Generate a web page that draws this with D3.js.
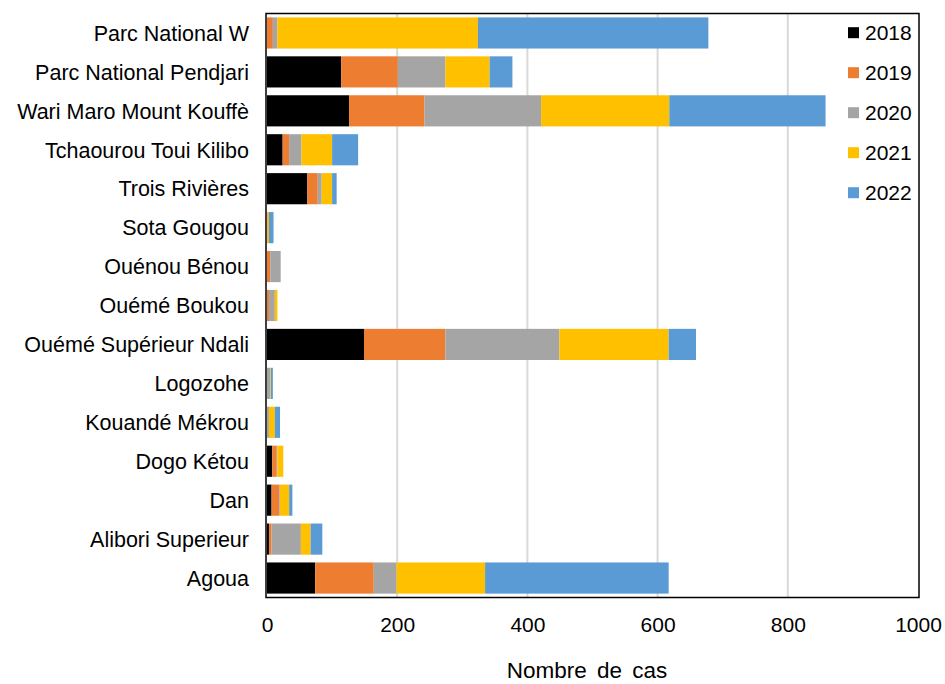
<!DOCTYPE html>
<html>
<head>
<meta charset="utf-8">
<script src="https://cdn.jsdelivr.net/npm/d3@7"></script>
<style>
  html, body { margin: 0; padding: 0; background: #fff; }
  svg { display: block; font-family: "Liberation Sans", Arial, sans-serif; }
</style>
</head>
<body>
<svg id="chart" width="945" height="684"></svg>
<script>
// Sites (top to bottom)
const sites = [
  "Parc National W",
  "Parc National Pendjari",
  "Wari Maro Mount Kouffè",
  "Tchaourou Toui Kilibo",
  "Trois Rivières",
  "Sota Gougou ",
  "Ouénou Bénou",
  "Ouémé Boukou",
  "Ouémé Supérieur Ndali",
  "Logozohe",
  "Kouandé Mékrou",
  "Dogo Kétou",
  "Dan",
  "Alibori Superieur",
  "Agoua"
];

// Yearly case counts per site, same order as sites
const years = ["2018", "2019", "2020", "2021", "2022"];
const cases2018 = [0, 114, 126, 24, 62, 0, 0, 0, 149, 0, 0, 8, 7, 3, 74];
const cases2019 = [9, 87, 116, 10, 16, 1, 5, 3, 125, 0, 0, 7, 12, 4, 90];
const cases2020 = [7, 73, 179, 19, 6, 0, 16, 9, 175, 5, 3, 1, 1, 45, 35];
const cases2021 = [308, 68, 197, 47, 16, 2, 0, 4, 168, 1, 9, 9, 14, 15, 136];
const cases2022 = [354, 35, 240, 40, 7, 7, 0, 0, 42, 3, 8, 0, 5, 18, 282];

const xTicks = [0, 200, 400, 600, 800, 1000];
const colors = ["#000000", "#ED7D31", "#A5A5A5", "#FFC000", "#5B9BD5"];

const seriesValues = [cases2018, cases2019, cases2020, cases2021, cases2022];
const rows = sites.map((s, i) => {
  const r = { site: s };
  years.forEach((y, k) => { r[y] = seriesValues[k][i]; });
  return r;
});

const svg = d3.select("#chart");
const plotLeft = 267, plotRight = 918, plotTop = 13.5, plotBottom = 597.5;

const x = d3.scaleLinear().domain([0, 1000]).range([plotLeft, plotRight]);
const y = d3.scaleBand().domain(sites).range([plotTop, plotBottom]).paddingInner(0.2).paddingOuter(0.1);

// Vertical gridlines
svg.append("g")
  .selectAll("line")
  .data(xTicks.filter(t => t > 0 && t < 1000))
  .join("line")
  .attr("x1", d => x(d)).attr("x2", d => x(d))
  .attr("y1", plotTop).attr("y2", plotBottom)
  .attr("stroke", "#d9d9d9")
  .attr("stroke-width", 2);

// Stacked bars
const stack = d3.stack().keys(years)(rows);
svg.append("g")
  .selectAll("g")
  .data(stack)
  .join("g")
  .attr("fill", (d, i) => colors[i])
  .selectAll("rect")
  .data(d => d)
  .join("rect")
  .attr("x", d => x(d[0]))
  .attr("width", d => Math.max(0, x(d[1]) - x(d[0])))
  .attr("y", d => y(d.data.site))
  .attr("height", y.bandwidth());

// Plot frame
svg.append("rect")
  .attr("x", plotLeft - 1).attr("y", plotTop)
  .attr("width", plotRight - plotLeft + 2).attr("height", plotBottom - plotTop)
  .attr("fill", "none")
  .attr("stroke", "#000")
  .attr("stroke-width", 1.5);

// Category labels
svg.append("g")
  .selectAll("text")
  .data(sites)
  .join("text")
  .attr("x", 249)
  .attr("y", d => y(d) + y.bandwidth() / 2)
  .attr("dy", "0.36em")
  .attr("text-anchor", "end")
  .attr("font-size", 21.5)
  .attr("fill", "#000")
  .text(d => d);

// X axis tick labels
const xAxis = d3.axisBottom(x).tickValues(xTicks).tickFormat(d3.format("d")).tickSize(0).tickPadding(0);
const gx = svg.append("g").attr("transform", `translate(0,${plotBottom})`).call(xAxis);
gx.select(".domain").remove();
gx.selectAll("text")
  .attr("y", 34)
  .attr("dy", 0)
  .attr("font-size", 21)
  .attr("font-family", "Liberation Sans, Arial, sans-serif")
  .attr("fill", "#000");

// Axis title
svg.append("text")
  .attr("x", 587)
  .attr("y", 678)
  .attr("text-anchor", "middle")
  .attr("font-size", 22.5)
  .attr("word-spacing", 4)
  .attr("fill", "#000")
  .text("Nombre de cas");

// Legend
const legend = svg.append("g")
  .selectAll("g")
  .data(years)
  .join("g")
  .attr("transform", (d, i) => `translate(848,${32.7 + i * 40})`);
legend.append("rect")
  .attr("x", 0).attr("y", -5.5)
  .attr("width", 11).attr("height", 11)
  .attr("fill", (d, i) => colors[i]);
legend.append("text")
  .attr("x", 17)
  .attr("y", 0)
  .attr("dy", "0.36em")
  .attr("font-size", 21)
  .attr("fill", "#000")
  .text(d => d);
</script>
</body>
</html>
